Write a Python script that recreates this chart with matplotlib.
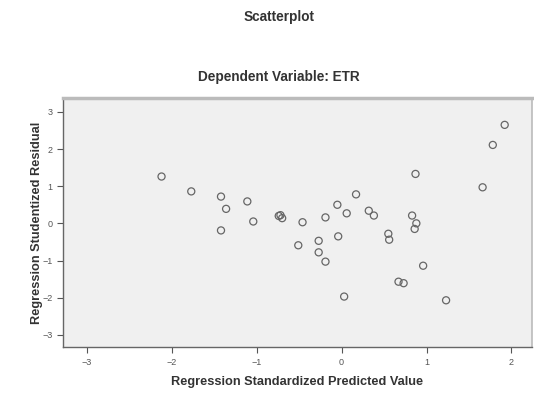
import matplotlib as mpl
from matplotlib import pyplot as plt
import numpy as np

mpl.rcParams["font.family"] = ["Liberation Sans", "DejaVu Sans"]

# values
pred = [-2.12, -1.77, -1.42, -1.36, -1.11, -1.42, -1.04, -0.74, -0.70, -0.72,
        -0.46, -0.51, -0.19, -0.27, -0.27, -0.19, -0.05, -0.04,
        0.06, 0.17, 0.32, 0.38, 0.55, 0.56, 0.03, 0.67, 0.73,
        0.83, 0.88, 0.86, 0.87, 0.96, 1.23, 1.66, 1.78, 1.92]
resid = [1.26, 0.86, 0.72, 0.39, 0.59, -0.19, 0.05, 0.20, 0.14, 0.22,
         0.03, -0.59, 0.16, -0.47, -0.78, -1.03, 0.50, -0.35,
         0.27, 0.78, 0.34, 0.21, -0.28, -0.44, -1.97, -1.57, -1.61,
         0.21, 0.00, -0.15, 1.33, -1.14, -2.07, 0.97, 2.11, 2.65]

xticks = [-3, -2, -1, 0, 1, 2]
yticks = [-3, -2, -1, 0, 1, 2, 3]

fig = plt.figure(figsize=(5.34, 3.94), dpi=100)
ax = fig.add_axes([0.118, 0.119, 0.878, 0.632])
ax.set_facecolor("#f0f0f0")

ax.scatter(pred, resid, s=26, facecolors="none", edgecolors="#666666", linewidths=0.9, zorder=3)

ax.set_xlim(-3.28, 2.24)
ax.set_ylim(-3.33, 3.37)
ax.set_xticks(xticks)
ax.set_yticks(yticks)
ax.tick_params(labelsize=6.5, colors="#555555", length=4, width=0.8, direction="out")

for s in ["top", "right"]:
    ax.spines[s].set_color("#bbbbbb")
    ax.spines[s].set_linewidth(1.2)
for s in ["left", "bottom"]:
    ax.spines[s].set_color("#666666")
    ax.spines[s].set_linewidth(1.0)
ax.spines["top"].set_linewidth(2.5)

lab = dict(fontsize=9.2, fontweight="bold", color="#333333")
ax.set_xlabel("Regression Standardized Predicted Value", labelpad=7, **lab)
ax.set_ylabel("Regression Studentized Residual", **lab)
ax.yaxis.set_label_coords(-0.043, 0.5)

ttl = dict(fontsize=9.8, fontweight="bold", color="#333333", ha="center", va="center")
fig.text(0.523, 0.957, "Scatterplot", **ttl)
fig.text(0.523, 0.805, "Dependent Variable: ETR", **ttl)

fig.savefig("out.png", dpi=100)
